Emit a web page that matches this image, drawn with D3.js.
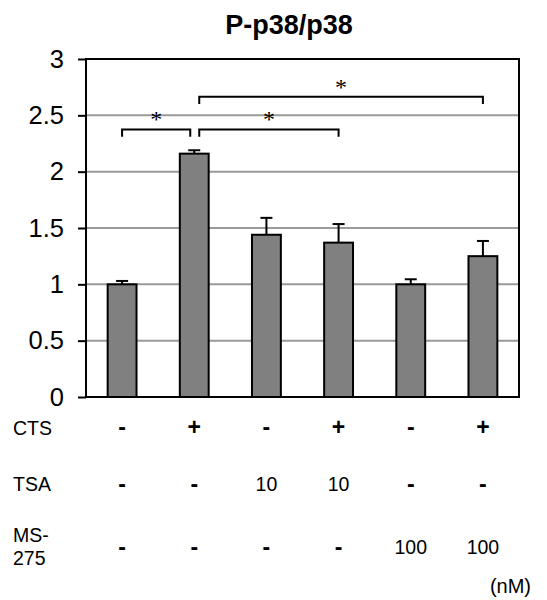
<!DOCTYPE html>
<html>
<head>
<meta charset="utf-8">
<script src="https://cdn.jsdelivr.net/npm/d3@7"></script>
<style>
  html, body { margin: 0; padding: 0; background: #fff; }
  svg { display: block; font-family: "Liberation Sans", Arial, sans-serif; }
</style>
</head>
<body>
<svg id="chart" width="547" height="600"></svg>
<script>
// P-p38/p38 ratio per treatment group (mean, SEM shown as upward error bar)
const groups = ["g1", "g2", "g3", "g4", "g5", "g6"];
const values = [1.00, 2.16, 1.44, 1.37, 1.00, 1.25];
const errors = [0.03, 0.03, 0.15, 0.165, 0.045, 0.135];

// treatment table under the axis
const ctsRow = ["-", "+", "-", "+", "-", "+"];
const tsaRow = ["-", "-", "10", "10", "-", "-"];
const msRow = ["-", "-", "-", "-", "100", "100"];

const yTicks = [0, 0.5, 1, 1.5, 2, 2.5, 3];
const yTickLabels = ["0", "0.5", "1", "1.5", "2", "2.5", "3"];

// significance brackets: [from group, to group, height of bar, height of legs]
const brackets = [
  [0, 1, 2.375, 2.31],
  [1, 3, 2.375, 2.31],
  [1, 5, 2.665, 2.60]
];

const svg = d3.select("#chart");
const plotLeft = 86, plotRight = 519, plotTop = 59, plotBottom = 397;

const x = d3.scaleBand().domain(groups).range([plotLeft, plotRight])
  .paddingInner(0.6).paddingOuter(0.3);
const y = d3.scaleLinear().domain([0, 3]).range([plotBottom, plotTop]);
const cx = i => x(groups[i]) + x.bandwidth() / 2;

// title
svg.append("text").attr("x", 289).attr("y", 34)
  .attr("text-anchor", "middle").attr("font-weight", "bold")
  .attr("font-size", 27).text("P-p38/p38");

// gridlines
svg.append("g").selectAll("line").data(yTicks.filter(t => t > 0 && t < 3)).join("line")
  .attr("x1", plotLeft).attr("x2", plotRight)
  .attr("y1", d => y(d)).attr("y2", d => y(d))
  .attr("stroke", "#9a9a9a").attr("stroke-width", 2);

// left axis with outward ticks
const yAxis = d3.axisLeft(y).tickValues(yTicks)
  .tickFormat((d, i) => yTickLabels[i]).tickSize(8).tickPadding(14);
const ag = svg.append("g").attr("transform", `translate(${plotLeft},0)`).call(yAxis);
ag.select(".domain").remove();
ag.selectAll(".tick line").attr("stroke", "#000").attr("stroke-width", 2);
ag.selectAll(".tick text").attr("font-size", 25.5).attr("fill", "#000")
  .attr("font-family", "Liberation Sans, Arial, sans-serif");

// bars
svg.append("g").selectAll("rect").data(values).join("rect")
  .attr("x", (d, i) => x(groups[i]))
  .attr("y", d => y(d))
  .attr("width", x.bandwidth())
  .attr("height", d => y(0) - y(d))
  .attr("fill", "#808080").attr("stroke", "#000").attr("stroke-width", 2);

// error bars (upper only)
const eg = svg.append("g").attr("stroke", "#000").attr("stroke-width", 2);
values.forEach((v, i) => {
  eg.append("line").attr("x1", cx(i)).attr("x2", cx(i))
    .attr("y1", y(v)).attr("y2", y(v + errors[i]));
  eg.append("line").attr("x1", cx(i) - 6).attr("x2", cx(i) + 6)
    .attr("y1", y(v + errors[i])).attr("y2", y(v + errors[i]));
});

// plot frame
svg.append("rect").attr("x", plotLeft).attr("y", plotTop)
  .attr("width", plotRight - plotLeft).attr("height", plotBottom - plotTop)
  .attr("fill", "none").attr("stroke", "#000").attr("stroke-width", 2);

// significance brackets
const bg = svg.append("g");
brackets.forEach(([a, b, h, leg]) => {
  const x1 = cx(a) + (a === 1 ? 5 : 0);
  const x2 = cx(b) - (b === 1 ? 4 : 0);
  bg.append("path")
    .attr("d", `M${x1},${y(leg)}V${y(h)}H${x2}V${y(leg)}`)
    .attr("fill", "none").attr("stroke", "#000").attr("stroke-width", 2);
  bg.append("text").attr("x", (x1 + x2) / 2).attr("y", y(h) - 2)
    .attr("text-anchor", "middle")
    .attr("font-family", "Liberation Serif, Times New Roman, serif")
    .attr("font-size", 24).text("*");
});

// treatment table
const rowLabel = (txt, yy) => svg.append("text").attr("x", 13).attr("y", yy)
  .attr("font-size", 19.5).attr("dominant-baseline", "central").text(txt);
rowLabel("CTS", 428);
rowLabel("TSA", 484);
rowLabel("MS-", 535);
rowLabel("275", 558);

const row = (cells, yy) => svg.append("g").selectAll("text").data(cells).join("text")
  .attr("x", (d, i) => cx(i)).attr("y", yy)
  .attr("text-anchor", "middle").attr("dominant-baseline", "central")
  .attr("font-size", d => (d === "+" || d === "-") ? 23 : 19.5)
  .attr("font-weight", d => (d === "+" || d === "-") ? "bold" : "normal")
  .text(d => d);
row(ctsRow, 427);
row(tsaRow, 484);
row(msRow, 547);

svg.append("text").attr("x", 531).attr("y", 586)
  .attr("text-anchor", "end").attr("dominant-baseline", "central")
  .attr("font-size", 20).text("(nM)");
</script>
</body>
</html>
